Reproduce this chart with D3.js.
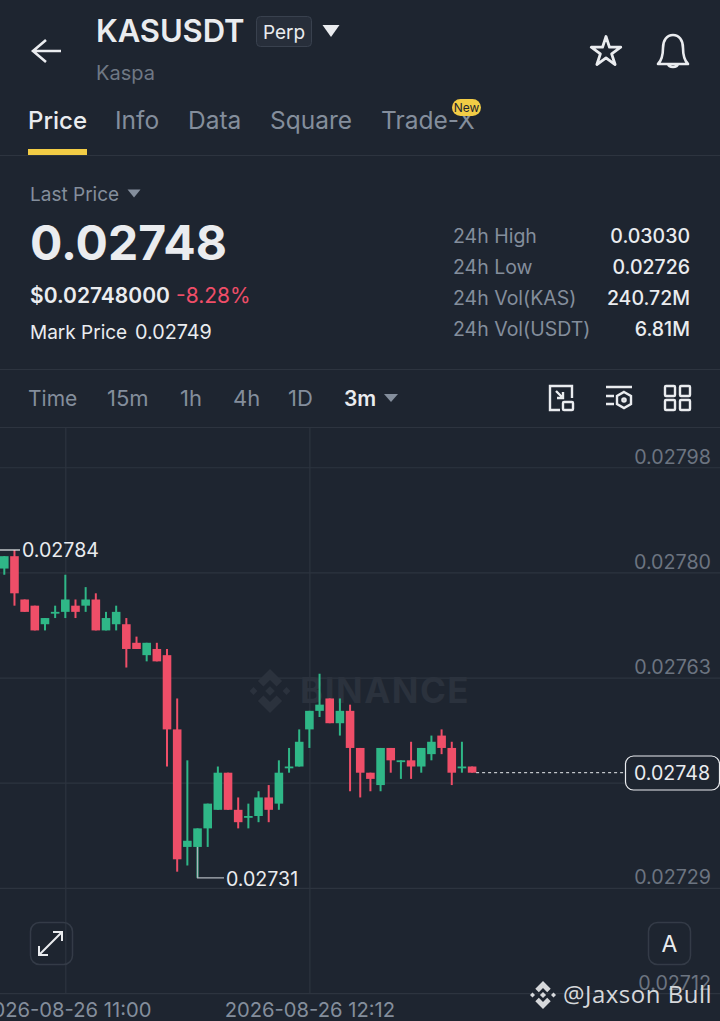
<!DOCTYPE html>
<html><head><meta charset="utf-8">
<script src="https://cdn.jsdelivr.net/npm/d3@7/dist/d3.min.js"></script>
<style>html,body{margin:0;padding:0;background:#1e2530;overflow:hidden}svg{display:block}text{font-family:Inter,Roboto,sans-serif}</style>
</head><body><svg id="c" width="720" height="1021"></svg>
<script>
// Prices in units of 0.00001
const times=["10:42","10:45","10:48","10:51","10:54","10:57","11:00","11:03","11:06","11:09","11:12","11:15","11:18","11:21","11:24","11:27","11:30","11:33","11:36","11:39","11:42","11:45","11:48","11:51","11:54","11:57","12:00","12:03","12:06","12:09","12:12","12:15","12:18","12:21","12:24","12:27","12:30","12:33","12:36","12:39","12:42","12:45","12:48","12:51","12:54","12:57","13:00"];
const opens =[2781,2783,2776,2775,2772,2774,2774,2775,2775,2776,2771,2772,2772,2769,2767,2768,2767,2755,2736,2736,2739,2742,2748,2742,2741,2741,2744,2743,2749,2749,2755,2758,2760,2756,2758,2752,2748,2746,2752,2750,2750,2749,2751,2754,2752,2749,2749];
const highs =[2783,2784,2776,2775,2773,2775,2780,2776,2778,2777,2774,2775,2773,2770,2769,2769,2768,2760,2750,2739,2743,2749,2748,2744,2743,2745,2746,2750,2752,2755,2758,2764,2760,2760,2759,2752,2748,2752,2752,2750,2753,2752,2754,2755,2753,2753,2749];
const lows  =[2780,2775,2774,2771,2771,2773,2773,2773,2774,2771,2771,2771,2765,2768,2766,2766,2749,2732,2733,2731,2736,2742,2742,2739,2739,2740,2740,2742,2748,2749,2752,2757,2756,2754,2745,2744,2745,2745,2748,2747,2747,2748,2750,2751,2746,2748,2748];
const closes=[2783,2777,2774,2771,2773,2774,2776,2774,2776,2771,2773,2774,2768,2768,2769,2766,2755,2734,2737,2739,2743,2748,2742,2740,2741,2744,2742,2748,2749,2753,2758,2759,2756,2758,2752,2748,2747,2752,2750,2750,2749,2752,2753,2752,2748,2749,2748];
const lastPrice=2748;
const priceTicks=[2797.38,2780.38,2763.38,2746.38,2729.38,2712.38];
const priceLabels=["0.02798","0.02780","0.02763","0.02746","0.02729","0.02712"];
const timeTicks=["11:00","12:12"];
const tabs=[["Price",28],["Info",115],["Data",188],["Square",270],["Trade-X",381]];
const intervals=[["Time",28],["15m",107],["1h",180],["4h",233],["1D",288]];
const stats=[["24h High","0.03030"],["24h Low","0.02726"],["24h Vol(KAS)","240.72M"],["24h Vol(USDT)","6.81M"]];

const BG="#1e2530",GRID="#2d343f",RED="#ef4e68",GREEN="#2fb787",WHITE="#eaecef",GRAY="#848e9c",AXIS="#6c7480";
const svg=d3.select("#c");
svg.append("rect").attr("width",720).attr("height",1021).attr("fill",BG);
function T(s,x,y,size,fill,opt={}){return svg.append("text").text(s).attr("x",x).attr("y",y).attr("font-size",size).attr("fill",fill).attr("font-weight",opt.w||400).attr("text-anchor",opt.a||"start").attr("letter-spacing",opt.ls||null);}
function tri(cx,cy,w,h,fill){svg.append("path").attr("d",`M${cx-w/2},${cy-h/2}L${cx+w/2},${cy-h/2}L${cx},${cy+h/2}Z`).attr("fill",fill);}
function hline(y){svg.append("line").attr("x1",0).attr("x2",720).attr("y1",y).attr("y2",y).attr("stroke",GRID).attr("stroke-width",1.2);}

// header
svg.append("path").attr("d","M61,51H34M46,40L33,51L46,62").attr("fill","none").attr("stroke",WHITE).attr("stroke-width",2.6);
T("KASUSDT",96,42,31,WHITE,{w:600,ls:-0.1});
svg.append("rect").attr("x",256.5).attr("y",16.5).attr("width",55).attr("height",30).attr("rx",4).attr("fill","#272e3a").attr("stroke","#39414e");
T("Perp",284,39,19,WHITE,{a:"middle"});
tri(331,31,17,12,WHITE);
T("Kaspa",96,80,20,"#6f7884");
svg.append("path").attr("d",d3.symbol(d3.symbolStar,270)).attr("transform","translate(606,52)").attr("fill","none").attr("stroke",WHITE).attr("stroke-width",2.8).attr("stroke-linejoin","round");
svg.append("path").attr("d","M658,64C662,60 663,56 663,48C663,40 667,35 673,35C679,35 683,40 683,48C683,56 684,60 688,64ZM668,64C669,68 677,68 678,64").attr("fill","none").attr("stroke",WHITE).attr("stroke-width",2.6).attr("stroke-linejoin","round");
tabs.forEach((t,i)=>T(t[0],t[1],129,i?24.5:24,i?GRAY:WHITE,{w:i?400:500}));
svg.append("rect").attr("x",28).attr("y",149).attr("width",59).attr("height",6).attr("fill","#f2cc45");
svg.append("rect").attr("x",452).attr("y",99).attr("width",29).attr("height",17).attr("rx",8.5).attr("fill","#f2cc45");
T("New",466.5,112,12,"#1e2530",{a:"middle"});
hline(155.5);

// stats
T("Last Price",30,201,19,GRAY);tri(134,193.5,13,8,GRAY);
T("0.02748",30,260,48,WHITE,{w:700});
T("$0.02748000",30,303,21,WHITE,{w:600});
T("-8.28%",176,303,21,RED);
T("Mark Price",30,339,19,WHITE);
T("0.02749",135,339,19.8,WHITE);
stats.forEach((s,i)=>{const y=243+i*31;T(s[0],453,y,19.5,GRAY);T(s[1],690,y,19.5,WHITE,{w:500,a:"end"});});
hline(369.5);

// interval bar
intervals.forEach(t=>T(t[0],t[1],406,t[0]=="Time"?21:22,GRAY));
T("3m",344,406,21,WHITE,{w:600});tri(391,398,14,8,GRAY);
const ic=svg.append("g").attr("fill","none").attr("stroke",WHITE).attr("stroke-width",2.4);
ic.append("path").attr("d","M560,410H550V386H572V398M556,391L563,398M557,398H563V392");
ic.append("rect").attr("x",563).attr("y",402).attr("width",10).attr("height",8).attr("rx",1);
ic.append("path").attr("d","M606,387H632M606,396H614M606,404H614");
ic.append("path").attr("d","M624,392L631,396V404L624,408L617,404V396Z");
ic.append("circle").attr("cx",624).attr("cy",400).attr("r",1.6);
[[665,386],[680,386],[665,400],[680,400]].forEach(p=>ic.append("rect").attr("x",p[0]).attr("y",p[1]).attr("width",10).attr("height",10).attr("rx",1));
hline(427.5);

// chart scales
const x=d3.scalePoint().domain(times).range([4.3,472.1]);
const y=d3.scaleLinear().domain([lastPrice,2784]).range([772.7,550]);

// grid and axes
const ay=svg.append("g").attr("transform","translate(0,0)").call(
  d3.axisRight(y).tickValues(priceTicks).tickSize(720).tickFormat((d,i)=>priceLabels[i]));
ay.select(".domain").remove();
ay.selectAll(".tick line").attr("stroke",GRID).attr("stroke-width",1.2);
ay.selectAll(".tick text").attr("x",711).attr("dy",-4).attr("text-anchor","end").attr("font-size",19.7).attr("fill",AXIS).attr("font-family","Inter,Roboto,sans-serif");
const ax=svg.append("g").attr("transform","translate(0,993)").call(
  d3.axisBottom(x).tickValues(timeTicks).tickSize(-565).tickFormat(d=>"2026-08-26 "+d));
ax.select(".domain").remove();
ax.selectAll(".tick line").attr("stroke",GRID).attr("stroke-width",1.2);
ax.selectAll(".tick text").attr("y",24).attr("dy",0).attr("font-size",20.2).attr("fill",GRAY).attr("font-family","Inter,Roboto,sans-serif");

// exchange watermark in chart
const diamond=(g,cx,cy,s,fill)=>{
  const d=(a,b,r)=>g.append("path").attr("d",`M${cx+a},${cy+b-r}L${cx+a+r},${cy+b}L${cx+a},${cy+b+r}L${cx+a-r},${cy+b}Z`).attr("fill",fill);
  d(0,0,s*.22);d(-s*.75,0,s*.18);d(s*.75,0,s*.18);
  g.append("path").attr("d",`M${cx},${cy-s}L${cx+s*.55},${cy-s*.45}L${cx+s*.3},${cy-s*.2}L${cx},${cy-s*.5}L${cx-s*.3},${cy-s*.2}L${cx-s*.55},${cy-s*.45}Z`).attr("fill",fill);
  g.append("path").attr("d",`M${cx},${cy+s}L${cx+s*.55},${cy+s*.45}L${cx+s*.3},${cy+s*.2}L${cx},${cy+s*.5}L${cx-s*.3},${cy+s*.2}L${cx-s*.55},${cy+s*.45}Z`).attr("fill",fill);
};
diamond(svg.append("g"),270,691,22,"#2b323d");
T("BINANCE",300,703,35,"#2b323d",{w:700,ls:1.5});

// candles
const cg=svg.append("g");
times.forEach((t,i)=>{
  const up=closes[i]>=opens[i];
  const col=up?GREEN:RED,cx=x(t);
  cg.append("line").attr("x1",cx).attr("x2",cx).attr("y1",y(highs[i])).attr("y2",y(lows[i])).attr("stroke",col).attr("stroke-width",2);
  const top=y(Math.max(opens[i],closes[i])),bot=y(Math.min(opens[i],closes[i]));
  cg.append("rect").attr("x",cx-4.3).attr("width",8.6).attr("y",top).attr("height",Math.max(bot-top,1.8)).attr("fill",col);
});

// high / low markers
const hi=d3.max(highs),lo=d3.min(lows),iHi=highs.indexOf(hi),iLo=lows.indexOf(lo);
svg.append("path").attr("d",`M0,${y(hi)}H20`).attr("stroke",WHITE).attr("stroke-width",1.2).attr("fill","none");
T((hi/1e5).toFixed(5),22,y(hi)+7,19.6,WHITE);
svg.append("path").attr("d",`M${x(times[iLo])},${y(opens[iLo])}V${y(lo)}H224`).attr("stroke","#aeb4bb").attr("stroke-width",1.2).attr("fill","none");
T((lo/1e5).toFixed(5),226,y(lo)+8,19.6,WHITE);

// last price
svg.append("line").attr("x1",x(times[46])+4).attr("x2",625).attr("y1",y(lastPrice)).attr("y2",y(lastPrice)).attr("stroke",WHITE).attr("stroke-width",1).attr("stroke-dasharray","3 3");
svg.append("rect").attr("x",625.5).attr("y",756).attr("width",94).attr("height",34).attr("rx",8).attr("fill",BG).attr("stroke",WHITE).attr("stroke-width",1.2);
T((lastPrice/1e5).toFixed(5),672,y(lastPrice)+7,19.6,WHITE,{a:"middle"});

// buttons
[[30,922],[648,922]].forEach(p=>svg.append("rect").attr("x",p[0]+.5).attr("y",p[1]+.5).attr("width",42).attr("height",42).attr("rx",9).attr("fill","none").attr("stroke","#343b47").attr("stroke-width",1.5));
svg.append("path").attr("d","M39,955L62,932M53,932H62V941M39,946V955H48").attr("fill","none").attr("stroke",WHITE).attr("stroke-width",2);
T("A",669.5,952,23,WHITE,{a:"middle"});

// source credit
diamond(svg.append("g"),543,995,14,"#d6d8db");
svg.append("text").text("@Jaxson Bull").attr("x",563).attr("y",1003).attr("font-size",24).attr("letter-spacing",0.5).attr("fill","#d6d8db").style("font-family","'Open Sans',sans-serif");
</script></body></html>
